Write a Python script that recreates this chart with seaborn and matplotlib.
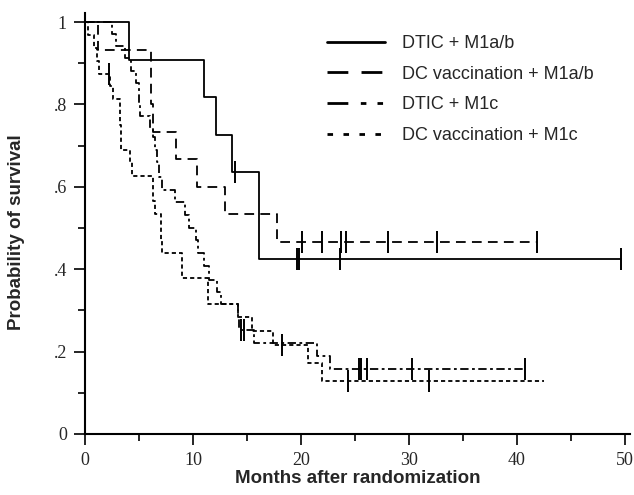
import matplotlib
matplotlib.use("Agg")
import matplotlib.pyplot as plt
from matplotlib.lines import Line2D
from matplotlib.ticker import FixedLocator
import seaborn as sns
import pandas as pd

# --------------------------------------------------
# Data
# --------------------------------------------------
labels = ["DTIC + M1a/b", "DC vaccination + M1a/b", "DTIC + M1c", "DC vaccination + M1c"]

# step times (months) and survival after each step
dtic_ab_t = [0, 4.1, 11.0, 12.1, 13.6, 16.1, 49.7]
dtic_ab_s = [1.0, 0.909, 0.818, 0.727, 0.636, 0.424, 0.424]
dtic_ab_cens = [13.9, 19.6, 19.8, 23.6, 49.7]

dc_ab_t = [0, 1.2, 6.1, 6.3, 8.4, 10.4, 13.0, 17.8, 41.9]
dc_ab_s = [1.0, 0.933, 0.8, 0.733, 0.667, 0.6, 0.533, 0.467, 0.467]
dc_ab_cens = [20.1, 22.0, 23.7, 24.2, 28.1, 32.6, 41.9]

dtic_c_t = [0, 2.5, 2.9, 3.7, 4.3, 4.7, 5.0, 5.1, 6.0, 6.3, 6.5, 6.7, 6.9, 7.1,
            8.3, 9.3, 9.6, 10.3, 10.5, 11.0, 11.5, 12.2, 12.6, 14.2, 14.3,
            15.7, 21.5, 22.7, 40.8]
dtic_c_s = [1.0, 0.971, 0.941, 0.912, 0.882, 0.853, 0.80, 0.772, 0.743, 0.72,
            0.69, 0.66, 0.625, 0.593, 0.562, 0.532, 0.5, 0.47, 0.44, 0.407,
            0.375, 0.345, 0.315, 0.281, 0.252, 0.22, 0.189, 0.157, 0.157]
dtic_c_cens = [14.5, 14.7, 25.4, 25.6, 26.1, 30.3, 40.8]

dc_c_t = [0, 0.3, 0.8, 1.1, 1.3, 2.3, 2.6, 3.2, 3.3, 4.2, 4.4, 6.3, 6.5, 7.0,
          7.1, 9.0, 11.4, 14.2, 15.5, 17.4, 20.7, 22.0, 42.5]
dc_c_s = [1.0, 0.969, 0.938, 0.906, 0.875, 0.844, 0.813, 0.75, 0.69, 0.66,
          0.627, 0.565, 0.535, 0.47, 0.44, 0.378, 0.315, 0.283, 0.25, 0.215,
          0.172, 0.128, 0.128]
dc_c_cens = [2.2, 18.3, 24.4, 31.9]

series = [
    (labels[0], dtic_ab_t, dtic_ab_s, dtic_ab_cens),
    (labels[1], dc_ab_t, dc_ab_s, dc_ab_cens),
    (labels[2], dtic_c_t, dtic_c_s, dtic_c_cens),
    (labels[3], dc_c_t, dc_c_s, dc_c_cens),
]

# --------------------------------------------------
# Tidy frames
# --------------------------------------------------
curves = pd.concat(
    [pd.DataFrame({"group": g, "months": t, "surv": s}) for g, t, s, _ in series],
    ignore_index=True,
)


def surv_at(t_list, s_list, x):
    val = s_list[0]
    for t, s in zip(t_list, s_list):
        if t <= x:
            val = s
    return val


cens = pd.concat(
    [pd.DataFrame({"group": g, "months": c, "surv": [surv_at(t, s, x) for x in c]})
     for g, t, s, c in series],
    ignore_index=True,
)

# --------------------------------------------------
# Plot
# --------------------------------------------------
sns.set_style("ticks")
plt.rcParams["lines.scale_dashes"] = False
sans = ["Liberation Sans", "DejaVu Sans"]
serif = ["Liberation Serif", "DejaVu Serif"]

fig = plt.figure(figsize=(6.34, 4.95), dpi=100)
ax = fig.add_axes([85 / 634, 1 - 434 / 495, (630 - 85) / 634, (434 - 13) / 495])

plot_dashes = {
    labels[0]: "",
    labels[1]: (7, 4.5),
    labels[2]: (6, 2.5, 2, 2.5),
    labels[3]: (3, 2.2),
}
sns.lineplot(
    data=curves, x="months", y="surv", style="group", dashes=plot_dashes,
    color="black", linewidth=1.3, drawstyle="steps-post", estimator=None,
    sort=False, legend=False, ax=ax,
)
sns.scatterplot(
    data=cens, x="months", y="surv", marker="|", s=260, color="black",
    linewidth=1.4, legend=False, ax=ax, zorder=3,
)

ax.set_xlim(0, 50.5)
ax.set_ylim(0, 1.022)
ax.xaxis.set_major_locator(FixedLocator([0, 10, 20, 30, 40, 50]))
ax.xaxis.set_minor_locator(FixedLocator([5, 15, 25, 35, 45]))
ax.yaxis.set_major_locator(FixedLocator([0, 0.2, 0.4, 0.6, 0.8, 1.0]))
ax.yaxis.set_minor_locator(FixedLocator([0.1, 0.3, 0.5, 0.7, 0.9]))
ax.set_yticklabels(["0", ".2", ".4", ".6", ".8", "1"])
ax.set_xticklabels(["0", "10", "20", "30", "40", "50"])
for lab in ax.get_xticklabels() + ax.get_yticklabels():
    lab.set_family(serif)
    lab.set_fontsize(13)
ax.tick_params(which="major", length=8, width=1.2, color="black", pad=5)
ax.tick_params(which="minor", length=5, width=1.2, color="black")
sns.despine(ax=ax)
for side in ["left", "bottom"]:
    ax.spines[side].set_linewidth(1.5)
    ax.spines[side].set_color("black")

ax.set_xlabel("Months after randomization", fontsize=13.5, fontweight="bold", family=sans)
ax.set_ylabel("Probability of survival", fontsize=13.5, fontweight="bold", family=sans)
ax.xaxis.set_label_coords(0.5, -0.085)
ax.yaxis.set_label_coords(-0.11, 0.48)

# legend handles use their own, longer dash patterns
handles = [
    Line2D([], [], color="black", lw=2.0),
    Line2D([], [], color="black", lw=2.0, dashes=(15, 9.5)),
    Line2D([], [], color="black", lw=2.0, dashes=(15, 9, 4, 8, 4, 8)),
    Line2D([], [], color="black", lw=2.0, dashes=(4, 7.5)),
]
fig.legend(
    handles, labels, loc="upper left", bbox_to_anchor=(327 / 634, 1 - 35 / 495),
    frameon=False, borderpad=0, borderaxespad=0, handlelength=3.2,
    handletextpad=0.95, labelspacing=0.76, prop={"family": sans, "size": 13},
)

fig.savefig("out.png", dpi=100)
plt.close(fig)
